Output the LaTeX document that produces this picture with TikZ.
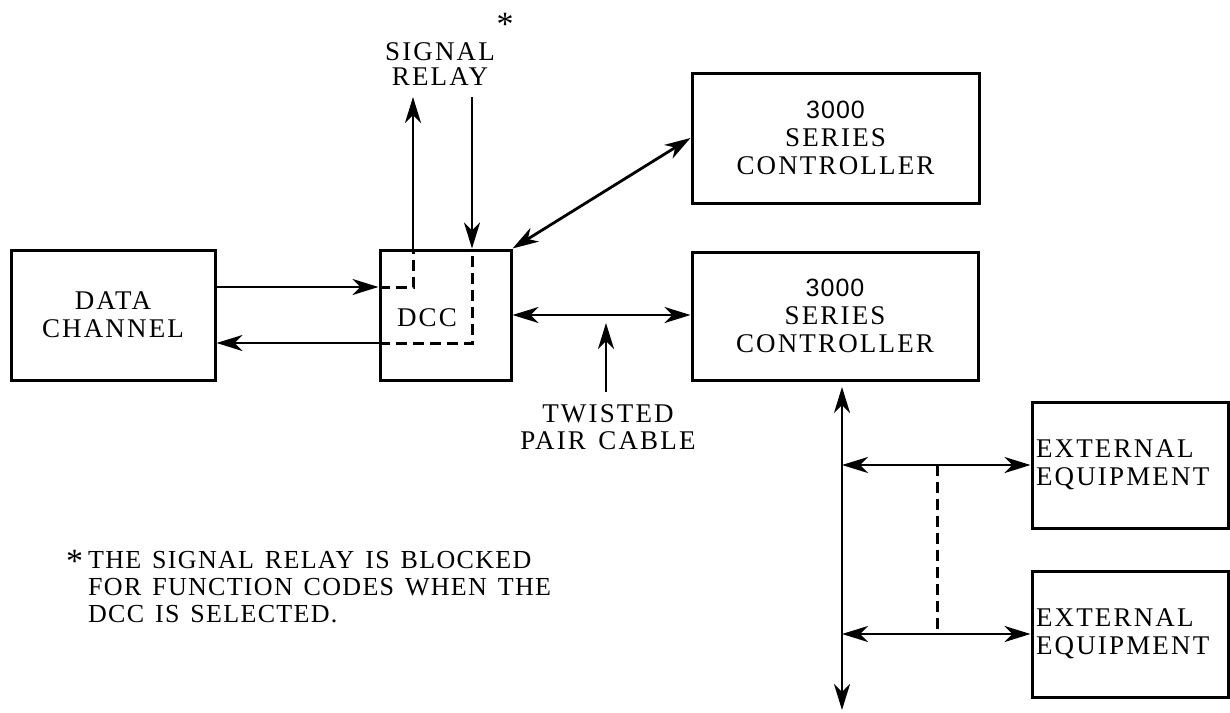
\documentclass[tikz,border=0pt]{standalone}
\usepackage{fontspec}
\setmainfont{Liberation Serif}[LetterSpace=8,WordSpace=1.4]
\newfontfamily\digitfont{Liberation Sans}[LetterSpace=4]
\newfontfamily\notefamily{Liberation Serif}[LetterSpace=5,WordSpace=1.4]
\usetikzlibrary{arrows.meta}
\newcommand\lblfont{\fontsize{27}{28}\selectfont}
\newcommand\notefont{\notefamily\fontsize{26}{27}\selectfont}
\newcommand\bigstar{{\fontsize{34}{34}\selectfont\raisebox{-0.25ex}{*}}}
\tikzset{
  box/.style={draw, line width=3pt, inner sep=0pt, align=center, font=\lblfont},
  txt/.style={inner sep=0pt, align=center, font=\lblfont},
  tip/.tip={Stealth[length=26pt,width=16pt,inset=8pt]},
  arr/.style={line width=2.8pt, -tip},
  darr/.style={line width=2.8pt, tip-tip},
  dashline/.style={line width=3pt, dash pattern=on 11pt off 6pt}
}
\begin{document}
\begin{tikzpicture}[x=1pt,y=-1pt]
\useasboundingbox[fill=white] (0,0) rectangle (1230,712);
% boxes
\node[box, minimum width=204pt, minimum height=130pt] (dc) at (113,315) {DATA\\CHANNEL};
\node[box, minimum width=131pt, minimum height=130pt] (dcc) at (445.5,315) {};
\node[txt] (dcclabel) at (427,318) {DCC};
\node[box, minimum width=287pt, minimum height=130pt] (uc) at (835.5,138) {{\digitfont\fontsize{25}{28}\selectfont 3000}\\SERIES\\CONTROLLER};
\node[box, minimum width=286pt, minimum height=128pt] (lc) at (835,316) {{\digitfont\fontsize{25}{28}\selectfont 3000}\\SERIES\\CONTROLLER};
\node[box, minimum width=196pt, minimum height=126pt, text width=188pt, align=left] (e1) at (1130,465) {EXTERNAL\\EQUIPMENT};
\node[box, minimum width=196pt, minimum height=126pt, text width=188pt, align=left] (e2) at (1130,634) {EXTERNAL\\EQUIPMENT};
% labels
\node[txt, font=\fontsize{27}{25}\selectfont] (sr) at (440,64) {SIGNAL\\RELAY};
\node[txt] (star) at (505,24) {\bigstar};
\node[txt, font=\fontsize{27}{27}\selectfont] (tp) at (608,427) {TWISTED\\PAIR CABLE};
\node[inner sep=0pt, anchor=north west, font=\notefont] (note) at (66,549)
  {\begin{tabular}{@{}l@{\hspace{5pt}}l@{}}\bigstar&THE SIGNAL RELAY IS BLOCKED\\
   &FOR FUNCTION CODES WHEN THE\\ &DCC IS SELECTED.\end{tabular}};
% coordinates
\coordinate (sru) at (413,97);
\coordinate (srd) at (472,97);
\coordinate (tpb) at (606,392);
\coordinate (tpt) at (606,323);
\coordinate (bt) at (842,387);
\coordinate (bb) at (842,710);
\coordinate (d1) at (937,465);
\coordinate (d2) at (937,634);
% data channel <-> DCC
\draw[arr] ([yshift=28pt]dc.east) -- ([yshift=28pt]dcc.west);
\draw[arr] ([yshift=-28pt]dcc.west) -- ([yshift=-28pt]dc.east);
% dashed paths inside DCC
\draw[dashline] ([yshift=28pt]dcc.west) -| ([xshift=-32.5pt]dcc.north);
\draw[dashline] ([yshift=-28pt]dcc.west) -| ([xshift=26.5pt]dcc.north);
% signal relay
\draw[arr] ([xshift=-32.5pt]dcc.north) -- (sru);
\draw[arr] (srd) -- ([xshift=26.5pt]dcc.north);
% DCC to controllers
\draw[darr] (dcc.north east) -- (uc.west);
\draw[darr] (dcc.east) -- (dcc.east -| lc.west);
% twisted pair pointer
\draw[arr] (tpb) -- (tpt);
% bus
\draw[darr] (bt) -- (bb);
\draw[darr] (e1.west -| bt) -- (e1.west);
\draw[darr] (e2.west -| bt) -- (e2.west);
\draw[dashline] (d1) -- (d2);
\end{tikzpicture}
\end{document}
